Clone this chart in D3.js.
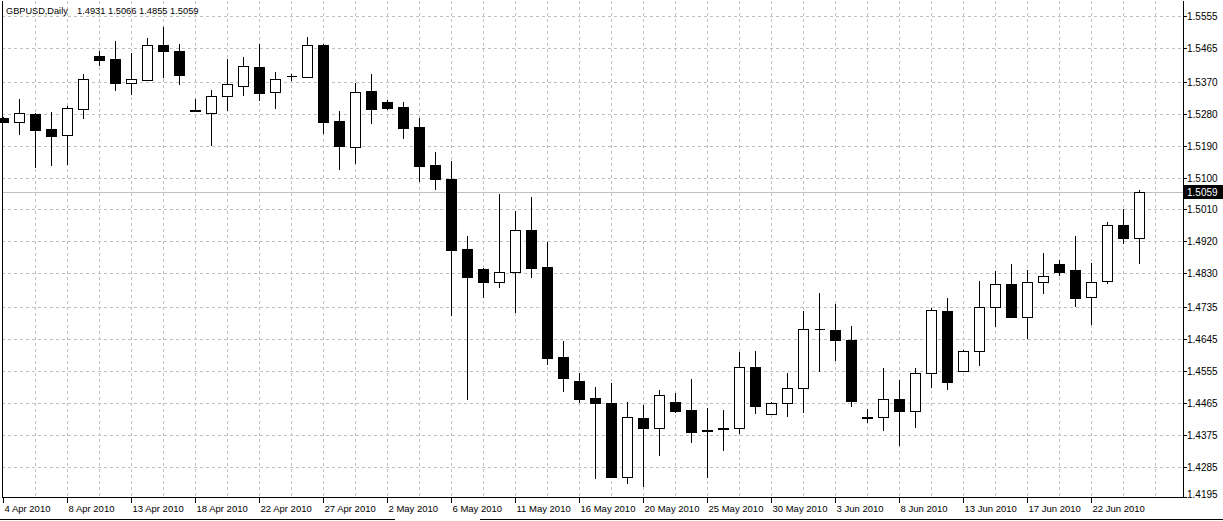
<!DOCTYPE html>
<html>
<head>
<meta charset="utf-8">
<script src="https://cdn.jsdelivr.net/npm/d3@7"></script>
<style>
  body { margin: 0; background: #ffffff; }
  svg { display: block; }
  text { font-family: "Liberation Sans", Arial, sans-serif; fill: #000000; }
</style>
</head>
<body>
<svg id="chart" width="1223" height="521"></svg>
<script>
// Daglige bars (søndag-fredag), GBPUSD april-juni 2010
var dates = [
  "2010.04.04","2010.04.05","2010.04.06","2010.04.07","2010.04.08","2010.04.09",
  "2010.04.11","2010.04.12","2010.04.13","2010.04.14","2010.04.15","2010.04.16",
  "2010.04.18","2010.04.19","2010.04.20","2010.04.21","2010.04.22","2010.04.23",
  "2010.04.25","2010.04.26","2010.04.27","2010.04.28","2010.04.29","2010.04.30",
  "2010.05.02","2010.05.03","2010.05.04","2010.05.05","2010.05.06","2010.05.07",
  "2010.05.09","2010.05.10","2010.05.11","2010.05.12","2010.05.13","2010.05.14",
  "2010.05.16","2010.05.17","2010.05.18","2010.05.19","2010.05.20","2010.05.21",
  "2010.05.23","2010.05.24","2010.05.25","2010.05.26","2010.05.27","2010.05.28",
  "2010.05.30","2010.05.31","2010.06.01","2010.06.02","2010.06.03","2010.06.04",
  "2010.06.06","2010.06.07","2010.06.08","2010.06.09","2010.06.10","2010.06.11",
  "2010.06.13","2010.06.14","2010.06.15","2010.06.16","2010.06.17","2010.06.18",
  "2010.06.20","2010.06.21","2010.06.22","2010.06.23","2010.06.24","2010.06.25"
];

var openP = [
  1.5268,1.5257,1.5279,1.5237,1.5220,1.5294, 1.5442,1.5434,1.5366,1.5375,1.5473,1.5456,
  1.5290,1.5283,1.5330,1.5358,1.5411,1.5341, 1.5385,1.5384,1.5473,1.5259,1.5187,1.5344,
  1.5314,1.5299,1.5242,1.5135,1.5096,1.4899, 1.4842,1.4807,1.4835,1.4952,1.4848,1.4594,
  1.4527,1.4479,1.4465,1.4257,1.4423,1.4394, 1.4468,1.4445,1.4390,1.4391,1.4394,1.4566,
  1.4434,1.4465,1.4507,1.4672,1.4670,1.4642, 1.4425,1.4425,1.4476,1.4442,1.4549,1.4724,
  1.4556,1.4612,1.4735,1.4800,1.4707,1.4807, 1.4856,1.4840,1.4763,1.4809,1.4966,1.4931
];
var highP = [
  1.5270,1.5321,1.5282,1.5285,1.5302,1.5392, 1.5456,1.5485,1.5451,1.5493,1.5524,1.5476,
  1.5321,1.5347,1.5434,1.5440,1.5476,1.5397, 1.5392,1.5496,1.5476,1.5287,1.5366,1.5392,
  1.5318,1.5313,1.5268,1.5172,1.5147,1.4935, 1.4845,1.5054,1.5006,1.5045,1.4918,1.4640,
  1.4549,1.4510,1.4521,1.4468,1.4459,1.4501, 1.4493,1.4532,1.4451,1.4445,1.4608,1.4611,
  1.4468,1.4549,1.4724,1.4775,1.4744,1.4682, 1.4448,1.4563,1.4530,1.4563,1.4732,1.4761,
  1.4613,1.4809,1.4837,1.4856,1.4840,1.4887, 1.4868,1.4935,1.4859,1.4975,1.5011,1.5066
];
var lowP = [
  1.5254,1.5220,1.5127,1.5132,1.5135,1.5265, 1.5414,1.5344,1.5332,1.5373,1.5380,1.5361,
  1.5285,1.5189,1.5287,1.5330,1.5316,1.5293, 1.5372,1.5383,1.5223,1.5121,1.5138,1.5251,
  1.5290,1.5209,1.5087,1.5065,1.4710,1.4473, 1.4761,1.4789,1.4718,1.4817,1.4572,1.4496,
  1.4465,1.4251,1.4254,1.4237,1.4228,1.4316, 1.4437,1.4352,1.4254,1.4330,1.4378,1.4434,
  1.4432,1.4425,1.4437,1.4552,1.4583,1.4454, 1.4408,1.4386,1.4344,1.4394,1.4507,1.4501,
  1.4552,1.4569,1.4679,1.4705,1.4645,1.4772, 1.4823,1.4735,1.4685,1.4800,1.4913,1.4855
];
var closeP = [
  1.5256,1.5281,1.5234,1.5217,1.5296,1.5378, 1.5431,1.5366,1.5378,1.5473,1.5456,1.5389,
  1.5287,1.5330,1.5363,1.5414,1.5338,1.5378, 1.5385,1.5473,1.5256,1.5189,1.5340,1.5293,
  1.5297,1.5240,1.5132,1.5096,1.4896,1.4820, 1.4806,1.4833,1.4952,1.4845,1.4592,1.4535,
  1.4476,1.4465,1.4256,1.4425,1.4394,1.4487, 1.4442,1.4383,1.4387,1.4393,1.4566,1.4456,
  1.4465,1.4507,1.4673,1.4672,1.4642,1.4470, 1.4422,1.4476,1.4442,1.4549,1.4727,1.4524,
  1.4612,1.4734,1.4800,1.4707,1.4806,1.4823, 1.4834,1.4761,1.4806,1.4966,1.4930,1.5059
];

// Prisakse-etiketter
var priceTicks = [1.5555,1.5465,1.5370,1.5280,1.5190,1.5100,1.5010,1.4920,
                  1.4830,1.4735,1.4645,1.4555,1.4465,1.4375,1.4285,1.4195];

// Datoakse-etiketter
var dateTicks = ["2010.04.04","2010.04.08","2010.04.13","2010.04.18","2010.04.22","2010.04.27",
                 "2010.05.02","2010.05.06","2010.05.11","2010.05.16","2010.05.20","2010.05.25",
                 "2010.05.30","2010.06.03","2010.06.08","2010.06.13","2010.06.17","2010.06.22"];
var dateTickLabels = ["4 Apr 2010","8 Apr 2010","13 Apr 2010","18 Apr 2010","22 Apr 2010","27 Apr 2010",
                      "2 May 2010","6 May 2010","11 May 2010","16 May 2010","20 May 2010","25 May 2010",
                      "30 May 2010","3 Jun 2010","8 Jun 2010","13 Jun 2010","17 Jun 2010","22 Jun 2010"];

var symbolTitle = "GBPUSD,Daily";
var lastBar = [1.4931, 1.5066, 1.4855, 1.5059];
var lastPrice = 1.5059;

var svg = d3.select("#chart");
var plotLeft = 2, plotRight = 1183, plotTop = 1, plotBottom = 497;

// Skalaer: x efter bar-nummer (16 px pr. bar), y efter pris
var xScale = d3.scaleLinear()
    .domain([0, 1])
    .range([3.5, 19.5]);
var yScale = d3.scaleLinear()
    .domain([1.42000, 1.55944])
    .range([plotBottom, 2]);

var bars = dates.map(function(d, i) {
  return { date: d, i: i, o: openP[i], h: highP[i], l: lowP[i], c: closeP[i] };
});

// Gitter (stiplet, lysegrå)
var grid = svg.append("g").attr("stroke", "#c0c0c0").attr("stroke-dasharray", "3,3")
    .attr("shape-rendering", "crispEdges");

var lastSlot = xScale.invert(plotRight);
var vGrid = d3.range(2, lastSlot, 2);
grid.selectAll("line.v").data(vGrid).enter().append("line")
    .attr("x1", function(d) { return Math.floor(xScale(d)) + 0.5; })
    .attr("x2", function(d) { return Math.floor(xScale(d)) + 0.5; })
    .attr("y1", plotTop).attr("y2", plotBottom);

grid.selectAll("line.h").data(priceTicks.slice(0, -1)).enter().append("line")
    .attr("x1", plotLeft).attr("x2", plotRight)
    .attr("y1", function(d) { return Math.round(yScale(d)) + 0.5; })
    .attr("y2", function(d) { return Math.round(yScale(d)) + 0.5; });

// Aktuel pris-linje
svg.append("line")
    .attr("x1", plotLeft).attr("x2", plotRight)
    .attr("y1", Math.round(yScale(lastPrice)) + 0.5)
    .attr("y2", Math.round(yScale(lastPrice)) + 0.5)
    .attr("stroke", "#c0c0c0").attr("stroke-width", 1);

// Lys
var candles = svg.append("g").attr("shape-rendering", "crispEdges");

function bodyTop(d) { return Math.round(yScale(Math.max(d.o, d.c))); }
function bodyBot(d) { return Math.round(yScale(Math.min(d.o, d.c))); }

candles.selectAll("line.wick").data(bars).enter().append("line")
    .attr("x1", function(d) { return Math.floor(xScale(d.i)) + 0.5; })
    .attr("x2", function(d) { return Math.floor(xScale(d.i)) + 0.5; })
    .attr("y1", function(d) { return yScale(d.h); })
    .attr("y2", function(d) { return yScale(d.l); })
    .attr("stroke", "#000000").attr("stroke-width", 1);

// Lys med krop
candles.selectAll("rect.body").data(bars.filter(function(d) { return bodyBot(d) > bodyTop(d); }))
  .enter().append("rect")
    .attr("x", function(d) { return Math.floor(xScale(d.i)) - 4.5; })
    .attr("width", 10)
    .attr("y", function(d) { return bodyTop(d) + 0.5; })
    .attr("height", function(d) { return bodyBot(d) - bodyTop(d); })
    .attr("fill", function(d) { return d.c >= d.o ? "#ffffff" : "#000000"; })
    .attr("stroke", "#000000").attr("stroke-width", 1);

// Doji: åbning = lukning, tegnes som vandret streg
candles.selectAll("line.doji").data(bars.filter(function(d) { return bodyBot(d) <= bodyTop(d); }))
  .enter().append("line")
    .attr("x1", function(d) { return Math.floor(xScale(d.i)) - 4.5; })
    .attr("x2", function(d) { return Math.floor(xScale(d.i)) + 6; })
    .attr("y1", function(d) { return bodyTop(d) + 0.5; })
    .attr("y2", function(d) { return bodyTop(d) + 0.5; })
    .attr("stroke", "#000000").attr("stroke-width", 1);

// Rammen
svg.append("path")
    .attr("d", "M" + (plotLeft + 0.5) + "," + plotTop + "V" + (plotBottom + 0.5) + "H" + (plotRight + 0.5) + "V" + plotTop)
    .attr("fill", "none").attr("stroke", "#000000").attr("shape-rendering", "crispEdges");

// Prisakse
var yAxis = svg.append("g");
priceTicks.forEach(function(p) {
  var y = Math.round(yScale(p)) + 0.5;
  if (y > plotBottom) y = plotBottom + 0.5;
  yAxis.append("line")
      .attr("x1", plotRight).attr("x2", plotRight + 4)
      .attr("y1", y).attr("y2", y)
      .attr("stroke", "#000000").attr("shape-rendering", "crispEdges");
  yAxis.append("text")
      .attr("x", plotRight + 4).attr("y", Math.min(y + 3.5, plotBottom + 1))
      .style("font-size", "10px")
      .text(p.toFixed(4));
});

// Boks med aktuel pris
var lpY = Math.round(yScale(lastPrice));
svg.append("rect")
    .attr("x", plotRight + 1).attr("y", lpY - 7)
    .attr("width", 39).attr("height", 14)
    .attr("fill", "#000000");
svg.append("text")
    .attr("x", plotRight + 4).attr("y", lpY + 4)
    .style("font-size", "10px")
    .style("fill", "#ffffff")
    .text(lastPrice.toFixed(4));

// Datoakse
var xAxis = svg.append("g");
dateTicks.forEach(function(d, k) {
  var i = dates.indexOf(d);
  var x = Math.floor(xScale(i)) + 0.5;
  xAxis.append("line")
      .attr("x1", x).attr("x2", x)
      .attr("y1", plotBottom).attr("y2", plotBottom + 6)
      .attr("stroke", "#000000").attr("shape-rendering", "crispEdges");
  xAxis.append("text")
      .attr("x", x + 1).attr("y", plotBottom + 15)
      .style("font-size", "9.5px")
      .text(dateTickLabels[k]);
});

// Titel
svg.append("text")
    .attr("x", 6).attr("y", 14)
    .style("font-size", "9.2px")
    .text(symbolTitle);
svg.append("text")
    .attr("x", 77).attr("y", 14)
    .style("font-size", "9.3px")
    .text(lastBar.map(function(v) { return v.toFixed(4); }).join(" "));

// Nederste kant (vinduesramme)
svg.append("line").attr("x1", 0).attr("x2", 395).attr("y1", 519.5).attr("y2", 519.5)
    .attr("stroke", "#000000");
svg.append("line").attr("x1", 480).attr("x2", 1223).attr("y1", 519.5).attr("y2", 519.5)
    .attr("stroke", "#000000");
</script>
</body>
</html>
